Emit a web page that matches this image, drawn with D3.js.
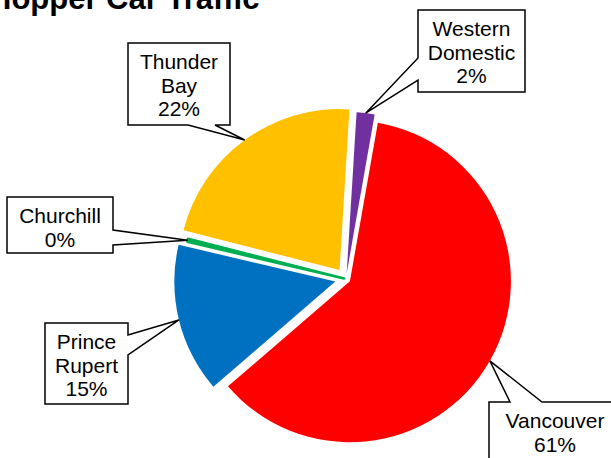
<!DOCTYPE html>
<html>
<head>
<meta charset="utf-8">
<script src="https://cdn.jsdelivr.net/npm/d3@7/dist/d3.min.js"></script>
<style>
  html, body { margin: 0; padding: 0; background: #fff; }
  svg { display: block; }
  text { font-family: "Liberation Sans", Arial, sans-serif; }
</style>
</head>
<body>
<svg id="chart" width="611" height="458"></svg>
<script>
// Hopper car traffic share by destination port (percent)
const categories = ["Vancouver", "Prince Rupert", "Churchill", "Thunder Bay", "Western Domestic"];
const shares = [60.9, 15.0, 0.3, 22.0, 1.8];
const colors = ["#FF0000", "#0070C0", "#00B050", "#FFC000", "#7030A0"];
const title = "Hopper Car Traffic";

const W = 611, H = 458;
const cx = 346, cy = 279, R = 161;
const firstSliceAngle = 10; // degrees, clockwise from 12 o'clock

// how far each slice is pulled out from the centre
const explode = [4.5, 11, 2, 11, 6];

// callout boxes: rect, the side the pointer leaves from, and the gap on that side
const callouts = [
  { x: 489, y: 402, w: 132, h: 62, side: "top",    gap: [510, 542] },
  { x: 45,  y: 323, w: 83,  h: 81, side: "right",  gap: [335, 355] },
  { x: 7,   y: 197, w: 106, h: 56, side: "right",  gap: [230, 245] },
  { x: 128, y: 43,  w: 102, h: 82, side: "bottom", gap: [188, 215] },
  { x: 418, y: 10,  w: 107, h: 82, side: "left",   gap: [58, 80] }
];

const svg = d3.select("#chart");

svg.append("text")
  .attr("x", -11).attr("y", 9)
  .attr("font-size", 31).attr("font-weight", "bold")
  .attr("fill", "#000")
  .text(title);

const rad = Math.PI / 180;
const pie = d3.pie().sort(null).value(d => d.v)
  .startAngle(firstSliceAngle * rad)
  .endAngle((firstSliceAngle + 360) * rad);

const data = categories.map((c, i) => ({ name: c, v: shares[i], color: colors[i], ex: explode[i], box: callouts[i] }));
const arcs = pie(data);

const arc = d3.arc().innerRadius(0).outerRadius(R);
const rimArc = d3.arc().innerRadius(R).outerRadius(R);

function offsetOf(d) {
  const a = (d.startAngle + d.endAngle) / 2;
  return [Math.sin(a) * d.data.ex, -Math.cos(a) * d.data.ex];
}

const g = svg.append("g").attr("transform", `translate(${cx},${cy})`);

g.selectAll("path.slice")
  .data(arcs)
  .join("path")
  .attr("class", "slice")
  .attr("transform", d => `translate(${offsetOf(d)})`)
  .attr("d", arc)
  .attr("fill", d => d.data.color)
  .attr("stroke", d => d.data.v < 1 ? d.data.color : "none")
  .attr("stroke-width", d => d.data.v < 1 ? 2.6 : 0)
  .attr("stroke-linejoin", "round");

// callout shape: rectangle with a pointer reaching the slice rim
function calloutPath(b, tip) {
  const x0 = b.x, y0 = b.y, x1 = b.x + b.w, y1 = b.y + b.h;
  const [g0, g1] = b.gap;
  const t = `${tip[0]},${tip[1]}`;
  switch (b.side) {
    case "left":
      return `M${x0},${y0}L${x1},${y0}L${x1},${y1}L${x0},${y1}L${x0},${g1}L${t}L${x0},${g0}Z`;
    case "right":
      return `M${x0},${y0}L${x1},${y0}L${x1},${g0}L${t}L${x1},${g1}L${x1},${y1}L${x0},${y1}Z`;
    case "top":
      return `M${x0},${y0}L${g0},${y0}L${t}L${g1},${y0}L${x1},${y0}L${x1},${y1}L${x0},${y1}Z`;
    default:
      return `M${x0},${y0}L${x1},${y0}L${x1},${y1}L${g1},${y1}L${t}L${g0},${y1}L${x0},${y1}Z`;
  }
}

const labels = svg.append("g");
arcs.forEach(d => {
  const off = offsetOf(d);
  const c = rimArc.centroid(d);
  const tip = [cx + c[0] + off[0], cy + c[1] + off[1]];
  const b = d.data.box;
  labels.append("path")
    .attr("d", calloutPath(b, tip))
    .attr("fill", "#fff")
    .attr("stroke", "#000")
    .attr("stroke-width", 1.5)
    .attr("stroke-linejoin", "miter");
  const lines = d.data.name.split(" ").concat([Math.round(d.data.v) + "%"]);
  const t = labels.append("text")
    .attr("text-anchor", "middle")
    .attr("font-size", 21)
    .attr("fill", "#000");
  lines.forEach((ln, i) => {
    t.append("tspan")
      .attr("x", b.x + b.w / 2)
      .attr("y", b.y + 26 + i * 23.5)
      .text(ln);
  });
});
</script>
</body>
</html>
